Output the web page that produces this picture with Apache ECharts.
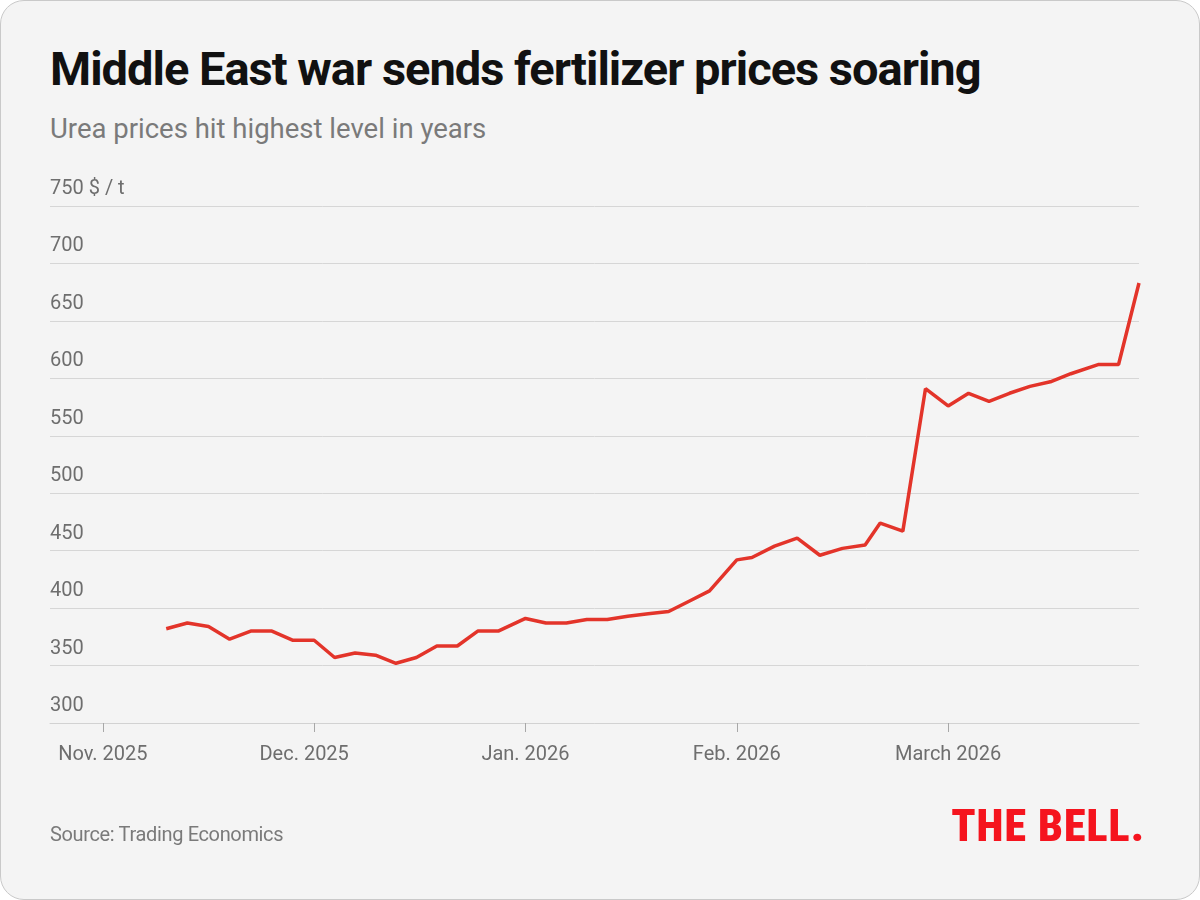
<!DOCTYPE html>
<html>
<head>
<meta charset="utf-8">
<title>Urea prices</title>
<script src="https://cdn.jsdelivr.net/npm/echarts@6/dist/echarts.min.js"></script>
<style>
  html, body {
    margin: 0;
    padding: 0;
    background: #ffffff;
  }
  .card {
    position: relative;
    width: 1198px;
    height: 898px;
    border: 1px solid #c9c9c9;
    border-radius: 24px;
    background: #f4f4f4;
    overflow: hidden;
    font-family: Roboto, sans-serif;
  }
  .card-title {
    position: absolute;
    left: 49px;
    top: 44px;
    margin: 0;
    font-size: 47px;
    line-height: 1;
    font-weight: 700;
    letter-spacing: -1px;
    color: #111111;
    white-space: nowrap;
  }
  .card-subtitle {
    position: absolute;
    left: 49px;
    top: 114px;
    margin: 0;
    font-size: 27.5px;
    line-height: 1;
    color: #7a7a7a;
    white-space: nowrap;
  }
  .card-chart {
    position: absolute;
    left: -1px;
    top: -1px;
    width: 1200px;
    height: 900px;
  }
  .card-source {
    position: absolute;
    left: 49px;
    top: 823px;
    margin: 0;
    font-size: 20px;
    line-height: 1;
    letter-spacing: -0.35px;
    color: #7a7a7a;
    white-space: nowrap;
  }
  .card-logo {
    position: absolute;
    right: 54px;
    top: 803px;
    margin: 0;
    font-family: 'Roboto Condensed', Roboto, sans-serif;
    font-size: 44px;
    line-height: 1;
    font-weight: 900;
    letter-spacing: 1px;
    color: #f5141e;
    white-space: nowrap;
  }
</style>
</head>
<body>
<div class="card">
  <h1 class="card-title">Middle East war sends fertilizer prices soaring</h1>
  <p class="card-subtitle">Urea prices hit highest level in years</p>
  <div id="chart" class="card-chart"></div>
  <p class="card-source">Source: Trading Economics</p>
  <p class="card-logo">THE BELL.</p>
</div>

<script>
// urea price, $ per tonne
const dates = [
  '2025-11-10', '2025-11-13', '2025-11-16', '2025-11-19', '2025-11-22', '2025-11-25', '2025-11-28',
  '2025-12-01', '2025-12-04', '2025-12-07', '2025-12-10', '2025-12-13', '2025-12-16', '2025-12-19',
  '2025-12-22', '2025-12-25', '2025-12-28',
  '2026-01-01', '2026-01-04', '2026-01-07', '2026-01-10', '2026-01-13', '2026-01-16', '2026-01-19',
  '2026-01-22', '2026-01-25', '2026-01-28',
  '2026-02-01', '2026-02-03', '2026-02-06', '2026-02-09', '2026-02-12', '2026-02-15', '2026-02-18',
  '2026-02-20', '2026-02-23', '2026-02-26',
  '2026-03-01', '2026-03-04', '2026-03-07', '2026-03-10', '2026-03-13', '2026-03-16', '2026-03-19',
  '2026-03-23', '2026-03-26', '2026-03-29'
];
const prices = [
  382, 387, 384, 373, 380, 380, 372, 372, 357, 361,
  359, 352, 357, 367, 367, 380, 380, 391, 387, 387,
  390, 390, 393, 395, 397, 406, 415, 442, 444, 454,
  461, 446, 452, 455, 474, 467, 591, 576, 587, 580,
  587, 593, 597, 604, 612, 612, 683
];
const monthLabels = ['Nov. 2025', 'Dec. 2025', 'Jan. 2026', 'Feb. 2026', 'March 2026'];
const monthTicks = [0, 1, 2, 3, 4];
const firstMonth = { year: 2025, month: 11 };

// the x scale gives every month the same width, as in the original
function monthPos(dateStr) {
  const [y, m, d] = dateStr.split('-').map(Number);
  const daysInMonth = new Date(y, m, 0).getDate();
  return (y - firstMonth.year) * 12 + (m - firstMonth.month) + (d - 1) / daysInMonth;
}

const seriesData = dates.map((d, i) => [monthPos(d), prices[i]]);

const labelFont = {
  fontFamily: 'Roboto',
  fontSize: 20,
  color: '#6e6e6e'
};

const option = {
  animation: false,
  backgroundColor: 'transparent',
  grid: {
    left: 50,
    right: 61,
    top: 206,
    bottom: 177
  },
  xAxis: {
    type: 'value',
    min: -0.25,
    max: 'dataMax',
    axisLine: { show: true, lineStyle: { color: '#d2d2d2', width: 1 } },
    axisTick: {
      show: true,
      customValues: monthTicks,
      length: 9,
      lineStyle: { color: '#a8a8a8', width: 1 }
    },
    axisLabel: {
      customValues: monthTicks,
      ...labelFont,
      margin: 22,
      lineHeight: 20,
      // the December label sits a little left of its tick in the original
      formatter: v => {
        const i = Math.round(v);
        return i === 1 ? '{shift|' + monthLabels[i] + '}' : monthLabels[i];
      },
      rich: {
        shift: { ...labelFont, lineHeight: 20, padding: [0, 20, 0, 0] }
      }
    },
    splitLine: { show: false }
  },
  yAxis: {
    type: 'value',
    min: 300,
    max: 750,
    interval: 50,
    axisLine: { show: false },
    axisTick: { show: false },
    axisLabel: {
      inside: true,
      margin: 0,
      ...labelFont,
      align: 'left',
      verticalAlign: 'bottom',
      lineHeight: 20,
      padding: [0, 0, 7, 0],
      formatter: v => (v === 750 ? '750 $ / t' : String(v))
    },
    splitLine: { lineStyle: { color: '#d6d6d6', width: 1 } }
  },
  series: [
    {
      name: 'Urea',
      type: 'line',
      data: seriesData,
      showSymbol: false,
      symbol: 'none',
      lineStyle: { color: '#e3342a', width: 3.5 },
      z: 5
    }
  ]
};

const chart = echarts.init(document.getElementById('chart'), null, { renderer: 'canvas' });
chart.setOption(option);
</script>
</body>
</html>
